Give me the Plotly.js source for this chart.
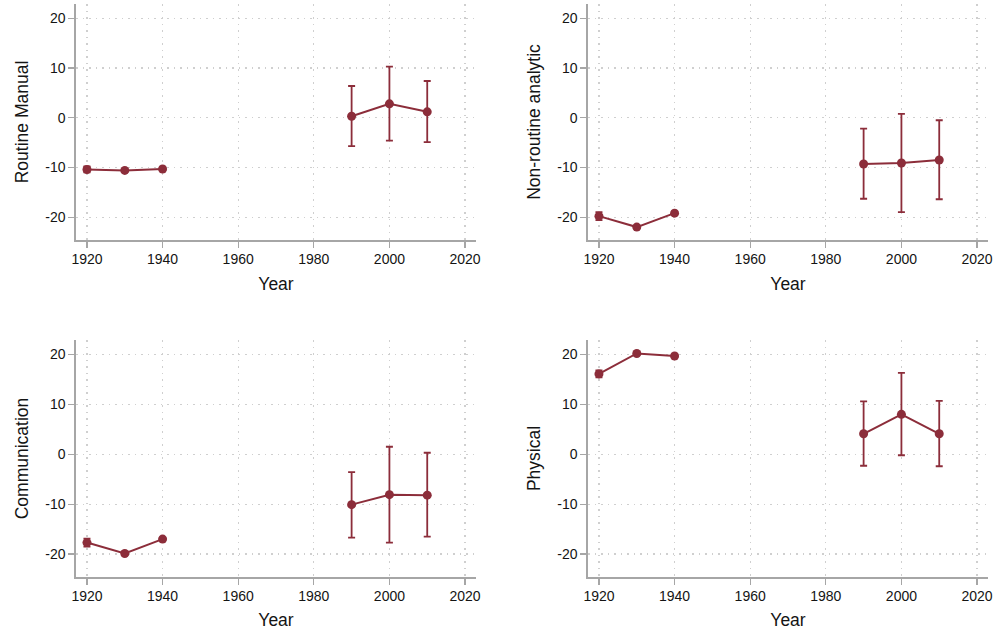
<!DOCTYPE html>
<html>
<head>
<meta charset="utf-8">
<script src="https://cdn.plot.ly/plotly-3.0.1.min.js"></script>
<style>
  html, body { margin: 0; padding: 0; background: #ffffff; }
  #chart { width: 995px; height: 630px; }
</style>
</head>
<body>
<div id="chart"></div>
<script>
// Decade years of the estimates
const years = [1920, 1930, 1940, 1990, 2000, 2010];

// Panel titles (task measures)
const panelNames = ["Routine Manual", "Non-routine analytic", "Communication", "Physical"];

// Point estimates per task measure
const routineManual   = [-10.4, -10.6, -10.3, 0.3, 2.8, 1.2];
const nonRoutine      = [-19.8, -22.0, -19.2, -9.3, -9.1, -8.5];
const communication   = [-17.7, -19.9, -17.0, -10.1, -8.1, -8.2];
const physical        = [16.1, 20.2, 19.7, 4.1, 8.0, 4.1];

// Lower confidence bounds
const routineManualLo = [-11.0, -10.9, -10.6, -5.7, -4.6, -4.9];
const nonRoutineLo    = [-20.6, -22.3, -19.5, -16.3, -19.0, -16.4];
const communicationLo = [-18.5, -20.2, -17.3, -16.7, -17.7, -16.5];
const physicalLo      = [15.4, 19.9, 19.4, -2.3, -0.2, -2.4];

// Upper confidence bounds
const routineManualHi = [-9.8, -10.3, -10.0, 6.4, 10.3, 7.4];
const nonRoutineHi    = [-19.0, -21.7, -18.9, -2.2, 0.8, -0.5];
const communicationHi = [-16.9, -19.6, -16.7, -3.6, 1.5, 0.3];
const physicalHi      = [16.8, 20.5, 20.0, 10.6, 16.3, 10.7];

// Axis ticks
const xTicks = [1920, 1940, 1960, 1980, 2000, 2020];
const yTicks = [20, 10, 0, -10, -20];
const yTickLabels = ["20", "10", "0", "-10", "-20"];

const est = [routineManual, nonRoutine, communication, physical];
const lo  = [routineManualLo, nonRoutineLo, communicationLo, physicalLo];
const hi  = [routineManualHi, nonRoutineHi, communicationHi, physicalHi];

const markColor = "#8c2d3a";
const axisColor = "#a6a6a6";
const gridColor = "#cfcfcf";
const textColor = "#141414";
const fontFamily = "Arial, Liberation Sans, sans-serif";

// No observations between 1940 and 1990: break the line there
function withGap(arr) {
  const out = [];
  arr.forEach((v, i) => {
    out.push(v);
    if (i === 2) out.push(null);
  });
  return out;
}

const traces = [];
est.forEach((vals, k) => {
  const ax = k === 0 ? "" : String(k + 1);
  const up = vals.map((v, i) => hi[k][i] - v);
  const dn = vals.map((v, i) => v - lo[k][i]);
  traces.push({
    type: "scatter",
    mode: "lines+markers",
    x: withGap(years),
    y: withGap(vals),
    xaxis: "x" + ax,
    yaxis: "y" + ax,
    connectgaps: false,
    line: { color: markColor, width: 2 },
    marker: { color: markColor, size: 9 },
    error_y: {
      type: "data",
      symmetric: false,
      array: withGap(up),
      arrayminus: withGap(dn),
      color: markColor,
      thickness: 1.8,
      width: 3.5
    },
    showlegend: false,
    hoverinfo: "x+y"
  });
});

const W = 995, H = 630;
const xDomLeft  = [76 / W, 476 / W];
const xDomRight = [588 / W, 988 / W];
const yDomTop    = [1 - 240 / H, 1 - 4 / H];
const yDomBottom = [1 - 577 / H, 1 - 340 / H];

function xAxis(domain, anchor) {
  return {
    domain: domain,
    anchor: anchor,
    range: [1917.1, 2022.9],
    tickmode: "array",
    tickvals: xTicks,
    ticks: "outside",
    ticklen: 6,
    tickwidth: 1.2,
    tickcolor: axisColor,
    showline: true,
    linecolor: axisColor,
    linewidth: 1.6,
    showgrid: true,
    gridcolor: gridColor,
    griddash: "1.5px,5px",
    gridwidth: 1.2,
    zeroline: false,
    tickfont: { family: fontFamily, size: 14, color: textColor },
    title: { text: "Year", font: { family: fontFamily, size: 17.5, color: textColor }, standoff: 11 }
  };
}

function yAxis(domain, anchor, name) {
  return {
    domain: domain,
    anchor: anchor,
    range: [-24.6, 22.9],
    tickmode: "array",
    tickvals: yTicks,
    ticktext: yTickLabels,
    ticks: "outside",
    ticklen: 6,
    tickwidth: 1.2,
    tickcolor: axisColor,
    showline: true,
    linecolor: axisColor,
    linewidth: 1.6,
    showgrid: true,
    gridcolor: gridColor,
    griddash: "1.5px,5px",
    gridwidth: 1.2,
    zeroline: false,
    tickfont: { family: fontFamily, size: 14, color: textColor },
    title: { text: name, font: { family: fontFamily, size: 17.5, color: textColor }, standoff: 12 }
  };
}

const layout = {
  width: W,
  height: H,
  margin: { l: 0, r: 0, t: 0, b: 0 },
  paper_bgcolor: "#ffffff",
  plot_bgcolor: "#ffffff",
  showlegend: false,
  xaxis:  xAxis(xDomLeft, "y"),
  yaxis:  yAxis(yDomTop, "x", panelNames[0]),
  xaxis2: xAxis(xDomRight, "y2"),
  yaxis2: yAxis(yDomTop, "x2", panelNames[1]),
  xaxis3: xAxis(xDomLeft, "y3"),
  yaxis3: yAxis(yDomBottom, "x3", panelNames[2]),
  xaxis4: xAxis(xDomRight, "y4"),
  yaxis4: yAxis(yDomBottom, "x4", panelNames[3])
};

Plotly.newPlot("chart", traces, layout, { displayModeBar: false, staticPlot: true });
</script>
</body>
</html>
